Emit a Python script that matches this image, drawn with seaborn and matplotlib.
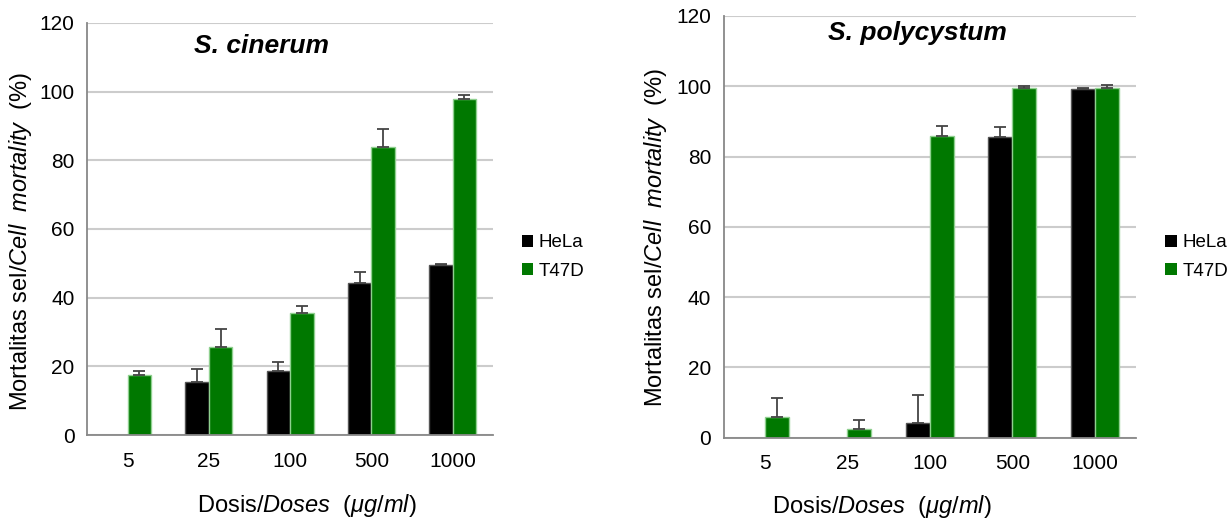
import numpy as np
import pandas as pd
import matplotlib
matplotlib.use('Agg')
import matplotlib.pyplot as plt
import seaborn as sns

# values
doses = ['5', '25', '100', '500', '1000']
lines = ['HeLa', 'T47D']

cin_hela = [0, 15.4, 18.5, 44.4, 49.4]
cin_hela_err = [0, 3.8, 2.9, 3.0, 0.5]
cin_t47d = [17.4, 25.6, 35.4, 83.8, 97.9]
cin_t47d_err = [1.2, 5.3, 2.2, 5.2, 1.0]

poly_hela = [0, 0, 4.3, 85.6, 99.2]
poly_hela_err = [0, 0, 7.8, 2.8, 0.3]
poly_t47d = [5.8, 2.5, 85.9, 99.6, 99.6]
poly_t47d_err = [5.6, 2.5, 2.8, 0.4, 0.9]

colors = {'HeLa': '#000000', 'T47D': '#007800'}
edges = {'HeLa': '#555555', 'T47D': '#8fd08f'}

sns.set_style('white')
plt.rcParams['font.family'] = ['Liberation Sans', 'DejaVu Sans']
plt.rcParams['mathtext.fontset'] = 'custom'
plt.rcParams['mathtext.rm'] = 'Liberation Sans'
plt.rcParams['mathtext.it'] = 'Liberation Sans:italic'
plt.rcParams['mathtext.bf'] = 'Liberation Sans:bold'
plt.rcParams['text.color'] = 'black'
plt.rcParams['axes.labelcolor'] = 'black'
plt.rcParams['xtick.labelcolor'] = 'black'
plt.rcParams['ytick.labelcolor'] = 'black'

fig = plt.figure(figsize=(12.31, 5.19), dpi=100)
ax1 = fig.add_axes([0.0707, 0.1618, 0.330, 0.794])
ax2 = fig.add_axes([0.588, 0.1567, 0.3347, 0.8125])


def draw(ax, hela, hela_err, t47d, t47d_err, title, title_x, title_y,
         leg_x, xlab_x, xlab_y, ylab_y):
    df = pd.DataFrame({
        'dose': doses * 2,
        'value': hela + t47d,
        'line': ['HeLa'] * len(doses) + ['T47D'] * len(doses),
    })
    ax.set_axisbelow(True)
    sns.barplot(data=df, x='dose', y='value', hue='line', order=doses,
                hue_order=lines, palette=colors, width=0.58, ax=ax,
                errorbar=None, linewidth=0, saturation=1)
    errs = {'HeLa': hela_err, 'T47D': t47d_err}
    for cont, name in zip(ax.containers, lines):
        for bar, e in zip(cont, errs[name]):
            h = bar.get_height()
            if h <= 0:
                bar.set_visible(False)
                continue
            bar.set_edgecolor(edges[name])
            bar.set_linewidth(1.0)
            if e > 0:
                xc = bar.get_x() + bar.get_width() / 2
                ax.errorbar([xc], [h], yerr=[[0], [e]], fmt='none',
                            ecolor='#444444', elinewidth=1.3, capsize=4,
                            capthick=1.3, zorder=3)
    ax.set_ylim(0, 120)
    ax.set_xlim(-0.5, len(doses) - 0.5)
    ax.set_yticks(np.arange(0, 121, 20))
    ax.yaxis.grid(True, color='#cccccc', linewidth=1.5)
    ax.xaxis.grid(False)
    for s in ['top', 'right']:
        ax.spines[s].set_visible(False)
    for s in ['left', 'bottom']:
        ax.spines[s].set_color('#888888')
        ax.spines[s].set_linewidth(1.3)
    ax.set_xticks(np.arange(-0.5, len(doses)), minor=True)
    ax.tick_params(axis='x', which='major', length=0, labelsize=15, pad=12)
    ax.tick_params(axis='x', which='minor', length=5, color='#bbbbbb', width=1.2)
    ax.tick_params(axis='y', length=5, color='#888888', width=1.2, labelsize=15, pad=4)
    ax.set_xlabel(r'Dosis/$\mathit{Doses\ \ (\mu g/ml)}$', fontsize=17)
    ax.xaxis.set_label_coords(xlab_x, xlab_y)
    ax.xaxis.label.set_va('center')
    ax.set_ylabel(r'Mortalitas sel/$\mathit{Cell\ \ mortality}$  (%)', fontsize=17)
    ax.yaxis.set_label_coords(-0.165, ylab_y)
    ax.yaxis.label.set_va('center')
    ax.text(title_x, title_y, title, transform=ax.transAxes, fontsize=19,
            fontweight='bold', fontstyle='italic', ha='center', va='center')
    ax.legend(loc='center left', bbox_to_anchor=(leg_x, 0.505),
              bbox_transform=fig.transFigure, frameon=False, fontsize=13.5,
              handlelength=0.6, handleheight=0.6, handletextpad=0.3,
              labelspacing=0.6, title=None)


draw(ax1, cin_hela, cin_hela_err, cin_t47d, cin_t47d_err,
     'S. cinerum', 0.43, 0.945, 0.41, 0.542, -0.172, 0.47)
draw(ax2, poly_hela, poly_hela_err, poly_t47d, poly_t47d_err,
     'S. polycystum', 0.47, 0.96, 0.933, 0.383, -0.163, 0.476)

fig.savefig('out.png', dpi=100)
